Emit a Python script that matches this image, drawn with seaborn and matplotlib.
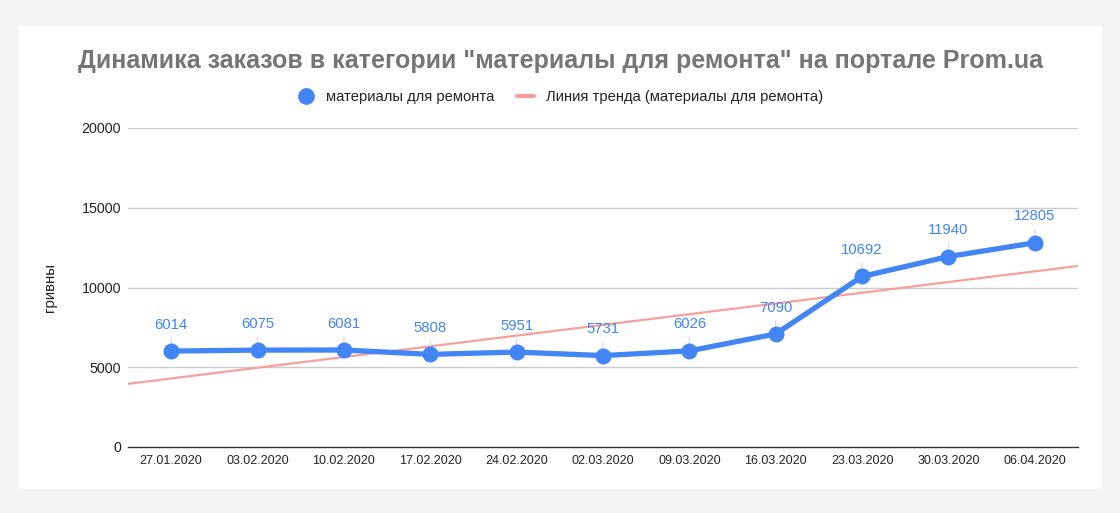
import numpy as np
import pandas as pd
import matplotlib
matplotlib.use("Agg")
import matplotlib.pyplot as plt
import seaborn as sns
from matplotlib.patches import Rectangle
from matplotlib.lines import Line2D

# dane z wykresu
dates = ["27.01.2020", "03.02.2020", "10.02.2020", "17.02.2020", "24.02.2020",
         "02.03.2020", "09.03.2020", "16.03.2020", "23.03.2020", "30.03.2020",
         "06.04.2020"]
orders = [6014, 6075, 6081, 5808, 5951, 5731, 6026, 7090, 10692, 11940, 12805]
series_name = "материалы для ремонта"
trend_name = "Линия тренда (материалы для ремонта)"
title = 'Динамика заказов в категории "материалы для ремонта" на портале Prom.ua'
y_label = "гривны"
y_ticks = [0, 5000, 10000, 15000, 20000]

BLUE = "#4285f4"
TREND = "#f7a09b"

sns.set_style("white")
plt.rcParams["font.family"] = ["Liberation Sans", "DejaVu Sans"]

df = pd.DataFrame({"date": dates, "orders": orders})
df["pos"] = np.arange(len(df))

fig = plt.figure(figsize=(11.2, 5.13), dpi=100)
fig.patch.set_facecolor("#f3f3f3")
card = Rectangle((19 / 1120, 1 - 489 / 513), 1083 / 1120, 463 / 513,
                 transform=fig.transFigure, facecolor="white",
                 edgecolor="none", zorder=-10)
fig.patches.append(card)

ax = fig.add_axes([128 / 1120, 1 - 447 / 513, 950 / 1120, 319 / 513])
ax.set_facecolor("none")

# linia trendu (regresja liniowa)
k, b = np.polyfit(df["pos"], df["orders"], 1)
tx = np.array([-0.5, len(df) - 0.5])
sns.lineplot(x=tx, y=k * tx + b, ax=ax, color=TREND, linewidth=1.6, zorder=2)

sns.lineplot(data=df, x="pos", y="orders", ax=ax, color=BLUE, linewidth=3.8,
             marker="o", markersize=11.5, markeredgewidth=0, zorder=3)

# etykiety wartości z cienką linią prowadzącą
for p, v in zip(df["pos"], df["orders"]):
    ax.annotate(str(v), (p, v), xytext=(0, 19), textcoords="offset points",
                ha="center", va="center", color=BLUE, fontsize=10.7,
                zorder=2.5,
                arrowprops=dict(arrowstyle="-", color="#dddddd", lw=1,
                                shrinkA=2, shrinkB=0))

ax.set_xlim(-0.5, len(df) - 0.5)
ax.set_ylim(0, 20000)
ax.set_xticks(df["pos"])
ax.set_xticklabels(dates)
ax.set_yticks(y_ticks)
ax.set_yticklabels([str(t) for t in y_ticks])
ax.tick_params(axis="both", length=0, colors="#222222")
ax.tick_params(axis="y", pad=5, labelsize=10.3)
ax.tick_params(axis="x", pad=6, labelsize=9)
ax.grid(axis="y", color="#cccccc", linewidth=1)
ax.set_axisbelow(True)
for s in ["top", "right", "left"]:
    ax.spines[s].set_visible(False)
ax.spines["bottom"].set_color("#333333")
ax.spines["bottom"].set_linewidth(1)
ax.set_xlabel("")
ax.set_ylabel(y_label, fontsize=10.8, color="#222222", labelpad=18)

fig.text(0.5, 1 - 61 / 513, title, ha="center", va="center", fontsize=18,
         fontweight="bold", color="#757575")

handles = [Line2D([], [], color=BLUE, marker="o", linestyle="none", markersize=11),
           Line2D([], [], color=TREND, linewidth=3)]
fig.legend(handles, [series_name, trend_name], loc="center",
           bbox_to_anchor=(0.5, 1 - 97 / 513), ncol=2, frameon=False,
           fontsize=10.6, handlelength=1.2, columnspacing=1.5, handletextpad=0.8,
           labelcolor="#222222")

fig.savefig("out.png", dpi=100, facecolor=fig.get_facecolor())
